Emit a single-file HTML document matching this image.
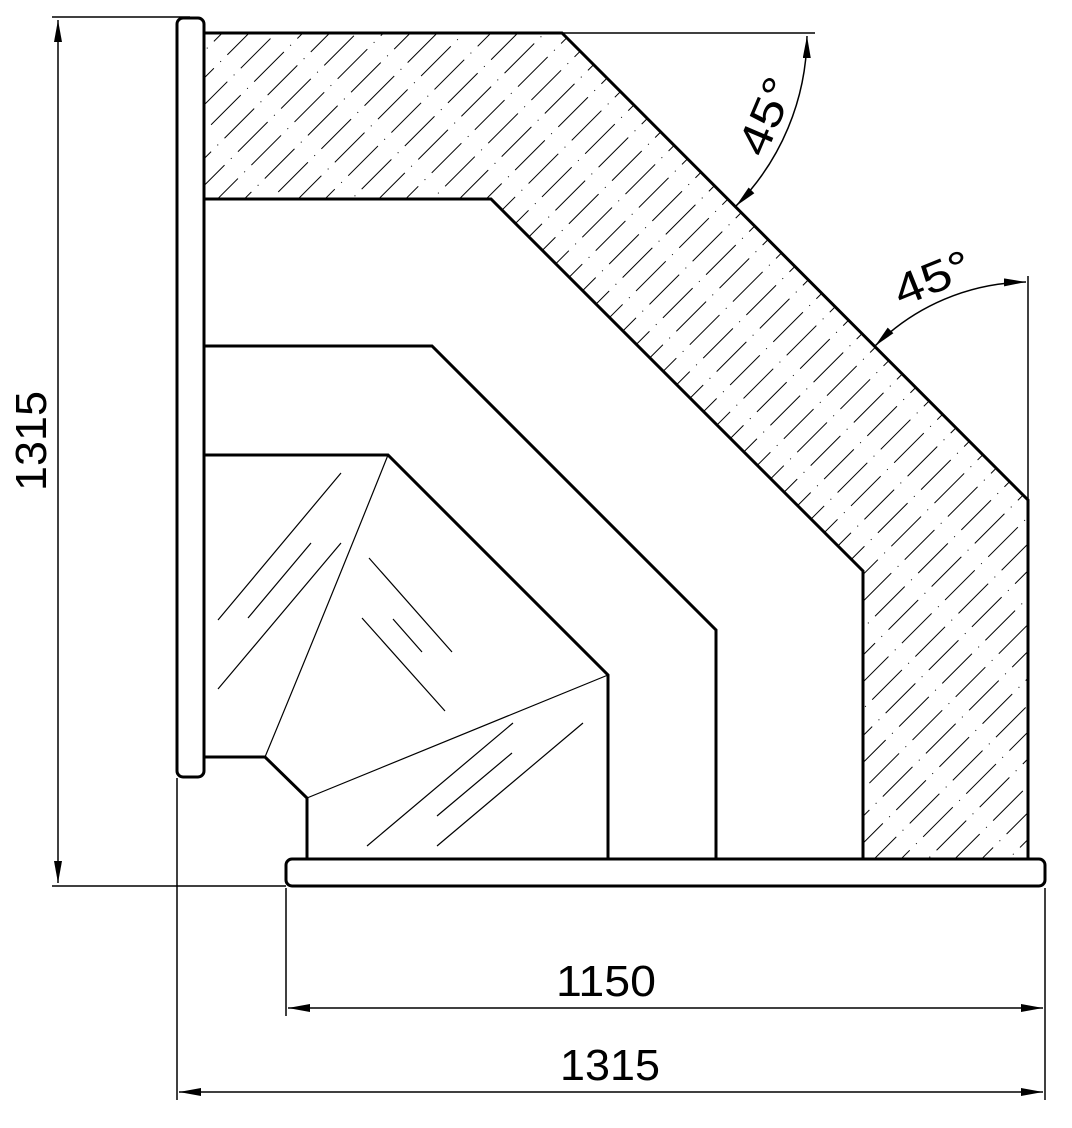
<!DOCTYPE html>
<html><head><meta charset="utf-8"><style>html,body{margin:0;padding:0;background:#fff}svg{display:block}</style></head>
<body>
<svg width="1072" height="1128" viewBox="0 0 1072 1128" xmlns="http://www.w3.org/2000/svg">
<defs>
<pattern id="h" patternUnits="userSpaceOnUse" width="61" height="19" patternTransform="rotate(-45)">
<line x1="0" y1="9.5" x2="61" y2="9.5" stroke="#000" stroke-width="1.1" stroke-dasharray="42 9 1 9"/>
</pattern>
<marker id="a" viewBox="0 0 22 8" refX="22" refY="4" markerWidth="22" markerHeight="8" markerUnits="userSpaceOnUse" orient="auto-start-reverse"><path d="M0,0 L22,4 L0,8 Z" fill="#000"/></marker>
</defs>
<path d="M204,33 L562,33 L1028,500 L1028,859 L863,859 L863,571 L491,199 L204,199 Z" fill="url(#h)"/>
<g stroke="#000" fill="none" stroke-width="3" stroke-linejoin="miter">
<rect x="177" y="18" width="27" height="759" rx="6"/>
<rect x="286" y="859" width="759" height="27" rx="6"/>
<path d="M204,33 L562,33 L1028,500 L1028,859"/>
<path d="M204,199 L491,199 L863,571 L863,859"/>
<path d="M204,346 L432,346 L716,630 L716,859"/>
<path d="M204,455 L388,455 L608,675 L608,859"/>
<path d="M204,757 L265,757 L307,798 L307,859"/>
</g>
<g stroke="#000" fill="none" stroke-width="1.2">
<path d="M388,455 Q330,600 265,757"/>
<path d="M307,798 L608,675"/>
<path d="M218,620 L341,473 M248,618 L311,543 M218,689 L341,543 M369,558 L452,652 M362,618 L445,711 M393,619 L422,652 M367,846 L513,723 M437,816 L512,753 M437,846 L583,723"/>
</g>
<g stroke="#000" fill="none" stroke-width="1.5">
<path d="M52,17 L190,17 M52,886 L286,886"/>
<path d="M58,20 L58,883" marker-start="url(#a)" marker-end="url(#a)"/>
<path d="M177,778 L177,1100 M286,888 L286,1016 M1045,888 L1045,1100"/>
<path d="M288,1008 L1043,1008" marker-start="url(#a)" marker-end="url(#a)"/>
<path d="M179,1092 L1043,1092" marker-start="url(#a)" marker-end="url(#a)"/>
<path d="M562,33 L815,33 M1028,276 L1028,500"/>
<path d="M807,36 A245,245 0 0 1 736,206" marker-start="url(#a)" marker-end="url(#a)"/>
<path d="M1026,282 A218,218 0 0 0 875,346" marker-start="url(#a)" marker-end="url(#a)"/>
</g>
<g font-family="Liberation Sans, sans-serif" font-size="44" fill="#000" text-anchor="middle">
<text x="606" y="996" textLength="100" lengthAdjust="spacingAndGlyphs">1150</text>
<text x="610" y="1080" textLength="100" lengthAdjust="spacingAndGlyphs">1315</text>
<text transform="translate(46,441) rotate(-90)" textLength="100" lengthAdjust="spacingAndGlyphs">1315</text>
<text transform="translate(780,122) rotate(-67)" textLength="80" lengthAdjust="spacingAndGlyphs">45°</text>
<text transform="translate(938,292) rotate(-22)" textLength="80" lengthAdjust="spacingAndGlyphs">45°</text>
</g>
</svg>
</body></html>
